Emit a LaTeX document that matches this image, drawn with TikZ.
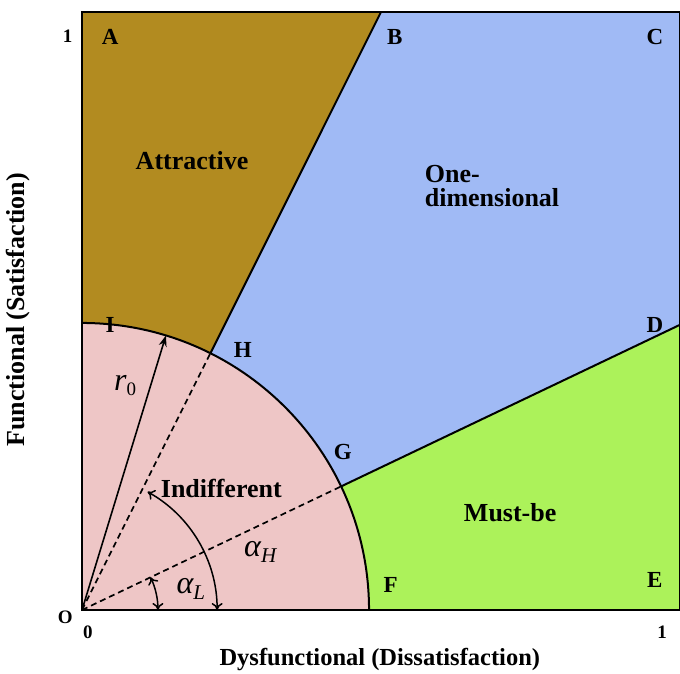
\documentclass[tikz,border=0pt]{standalone}
\usepackage{fontspec}
\setmainfont{Liberation Serif}
\usetikzlibrary{arrows.meta}
\definecolor{attr}{RGB}{178,139,32}
\definecolor{oned}{RGB}{160,186,245}
\definecolor{mustbe}{RGB}{172,242,90}
\definecolor{indiff}{RGB}{238,198,198}
\tikzset{
  lbl/.style={font=\fontsize{23}{25}\selectfont\bfseries},
  tick/.style={font=\fontsize{19}{21}\selectfont\bfseries},
  axislbl/.style={font=\fontsize{24.5}{27}\selectfont\bfseries},
  region/.style={font=\fontsize{26}{27}\selectfont\bfseries},
  edge/.style={line width=2pt},
  dashline/.style={line width=1.7pt, dash pattern=on 6pt off 4pt},
  angarrow/.style={line width=1.5pt, {To[length=7pt,width=11pt]}-{To[length=7pt,width=11pt]}},
  greek/.style={font=\fontsize{32}{34}\selectfont\itshape}
}
\begin{document}
\begin{tikzpicture}[x=598pt,y=598pt]
\useasboundingbox (-82pt,-64pt) rectangle (598pt,610pt);
\def\rr{0.48}
\def\al{25.5}
\def\ah{63.43}
% regions
\fill[attr] (0,1) -- (0.5,1) -- (\ah:\rr) arc[start angle=\ah, end angle=90, radius=\rr] -- cycle;
\fill[oned] (0.5,1) -- (1,1) -- (1,{tan(\al)}) -- (\al:\rr) arc[start angle=\al, end angle=\ah, radius=\rr] -- cycle;
\fill[mustbe] (1,{tan(\al)}) -- (1,0) -- (\rr,0) arc[start angle=0, end angle=\al, radius=\rr] -- cycle;
\fill[indiff] (0,0) -- (\rr,0) arc[start angle=0, end angle=90, radius=\rr] -- cycle;
% named points
\coordinate (O) at (0,0);
\coordinate (Bp) at (0.5,1);
\coordinate (Dp) at (1,{tan(\al)});
\coordinate (Hp) at (\ah:\rr);
\coordinate (Gp) at (\al:\rr);
\coordinate (Ip) at (0,\rr);
\coordinate (Fp) at (\rr,0);
\coordinate (R) at (73:\rr);
% lines
\draw[edge] (Hp) -- (Bp);
\draw[edge] (Gp) -- (Dp);
\draw[edge] (Ip) arc[start angle=90, end angle=0, radius=\rr];
\draw[dashline] (O) -- (Hp);
\draw[dashline] (O) -- (Gp);
\draw[line width=1.6pt, -{Stealth[length=11pt,width=8pt]}] (O) -- (R);
\draw[angarrow] (0.127,0) arc[start angle=0, end angle=\al, radius=0.127];
\draw[angarrow] (0.226,0) arc[start angle=0, end angle=61, radius=0.226];
\draw[line width=2.6pt] (0,0) rectangle (1,1);
% letters
\node[lbl] (A) at (0.047,0.958) {A};
\node[lbl] (B) at (0.523,0.958) {B};
\node[lbl] (C) at (0.958,0.958) {C};
\node[lbl] (D) at (0.958,0.477) {D};
\node[lbl] (E) at (0.958,0.050) {E};
\node[lbl] (F) at (0.516,0.042) {F};
\node[lbl] (G) at (0.436,0.264) {G};
\node[lbl] (H) at (0.269,0.435) {H};
\node[lbl] (I) at (0.047,0.477) {I};
% regions text
\node[region] (att) at (0.184,0.752) {Attractive};
\node[region, anchor=west, align=left, inner sep=0pt] (one) at (0.573,0.709) {One-\\[-3pt]dimensional};
\node[region] (must) at (0.716,0.162) {Must-be};
\node[region] (ind) at (0.233,0.204) {Indifferent};
% greek
\node[greek] (r0) at (0.072,0.376) {r\raisebox{-0.35ex}{\fontsize{19}{21}\selectfont\upshape 0}};
\node[greek] (aH) at (0.298,0.097) {α\raisebox{-0.45ex}{\fontsize{21}{23}\selectfont H}};
\node[greek] (aL) at (0.182,0.035) {α\raisebox{-0.45ex}{\fontsize{21}{23}\selectfont L}};
% ticks
\node[tick] (o) at (-0.028,-0.012) {O};
\node[tick] (z) at (0.010,-0.037) {0};
\node[tick] (one1) at (-0.024,0.959) {1};
\node[tick] (one2) at (0.970,-0.037) {1};
% axes
\node[axislbl] (xl) at (0.498,-0.082) {Dysfunctional (Dissatisfaction)};
\node[axislbl, font=\fontsize{26}{28}\selectfont\bfseries, rotate=90] (yl) at (-0.107,0.502) {Functional (Satisfaction)};
\end{tikzpicture}
\end{document}
